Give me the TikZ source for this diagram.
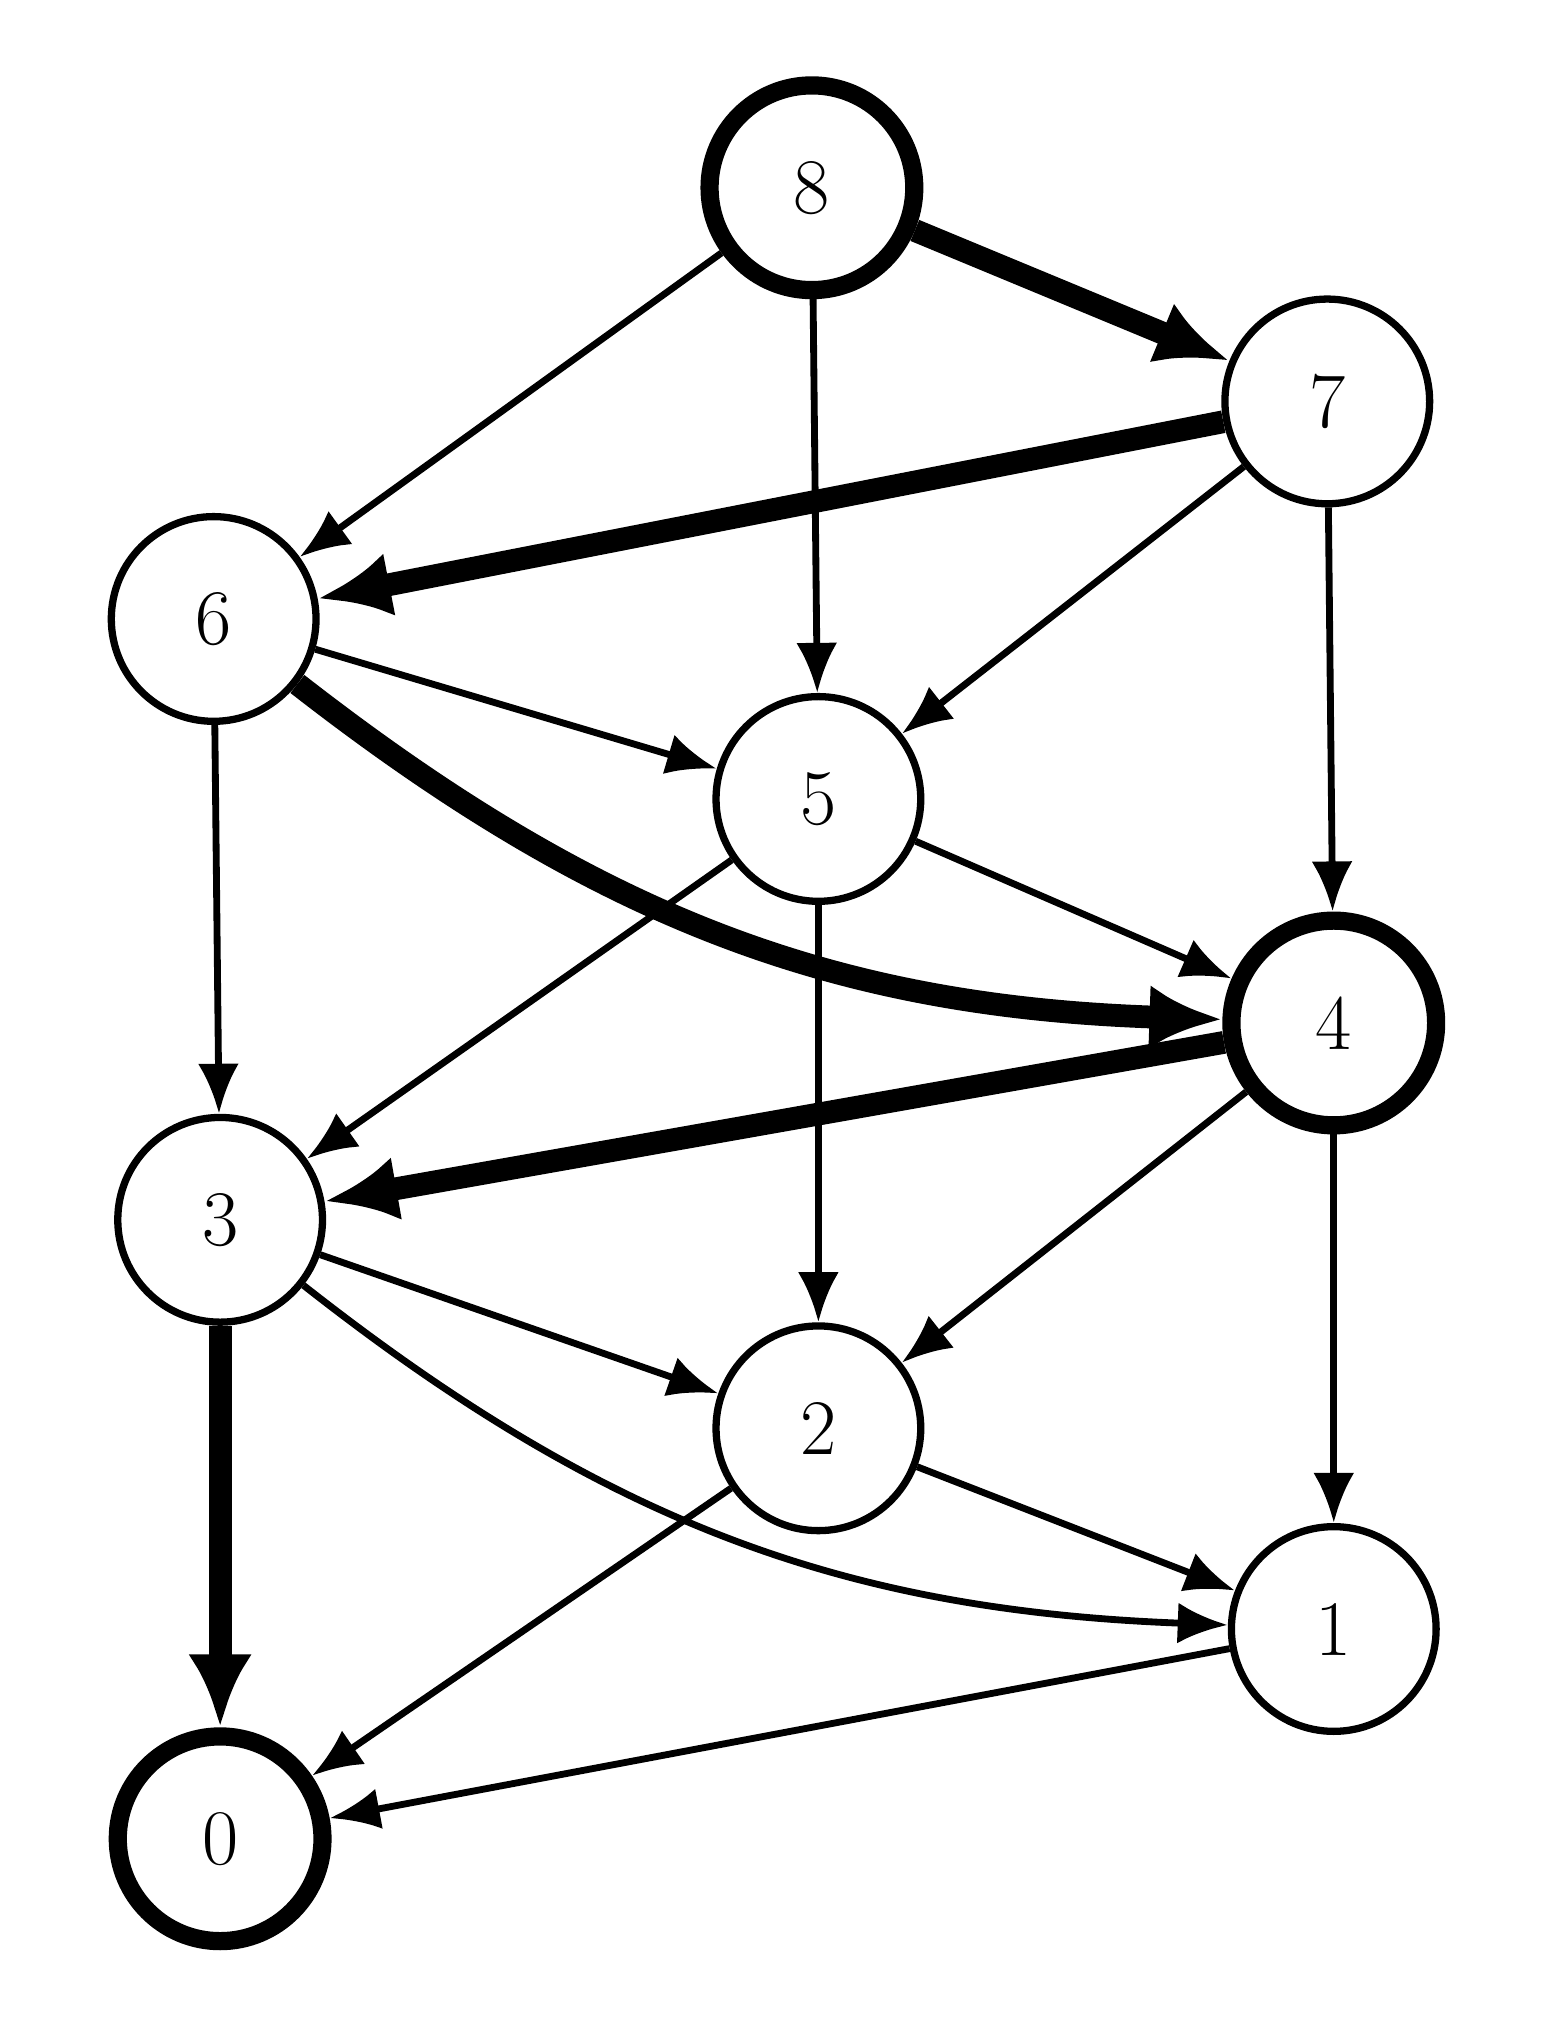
\documentclass[tikz,border=0pt]{standalone}
\usepackage{tikz}
\usetikzlibrary{positioning,calc,arrows.meta}

\begin{document}
\begin{tikzpicture}[
            x=0.01cm, y=-0.01cm,
            main node/.style={circle,draw,line width=1.6pt,font=\LARGE,minimum size=1.58cm,inner sep=0pt},
            heavy node/.style={main node,line width=4pt},
            every edge/.style={draw,line width=1.5pt,-{Latex[length=11pt,width=9pt]}},
            heavy/.style={line width=5pt,-{Latex[length=16pt,width=14pt]}},
        ]
            \useasboundingbox (0,0) rectangle (1190,1570);
            \node[heavy node] (n8) at (627,145) {8};
            \node[main node] (n7) at (1025,310) {7};
            \node[main node] (n6) at (165,478) {6};
            \node[main node] (n5) at (632,617) {5};
            \node[heavy node] (n4) at (1030,790) {4};
            \node[main node] (n3) at (170,942) {3};
            \node[main node] (n2) at (632,1103) {2};
            \node[main node] (n1) at (1030,1258) {1};
            \node[heavy node] (n0) at (170,1420) {0};

            \path (n8) edge[heavy] (n7);
            \path (n8) edge (n6);
            \path (n8) edge (n5);
            \path (n7) edge[heavy] (n6);
            \path (n7) edge (n5);
            \path (n7) edge (n4);
            \path (n6) edge (n5);
            \path (n6) edge[heavy,bend right=18] (n4);
            \path (n6) edge (n3);
            \path (n5) edge (n4);
            \path (n5) edge (n3);
            \path (n5) edge (n2);
            \path (n4) edge[heavy] (n3);
            \path (n4) edge (n2);
            \path (n4) edge (n1);
            \path (n3) edge (n2);
            \path (n3) edge[bend right=18] (n1);
            \path (n3) edge[heavy] (n0);
            \path (n2) edge (n1);
            \path (n2) edge (n0);
            \path (n1) edge (n0);
        \end{tikzpicture}
\end{document}
